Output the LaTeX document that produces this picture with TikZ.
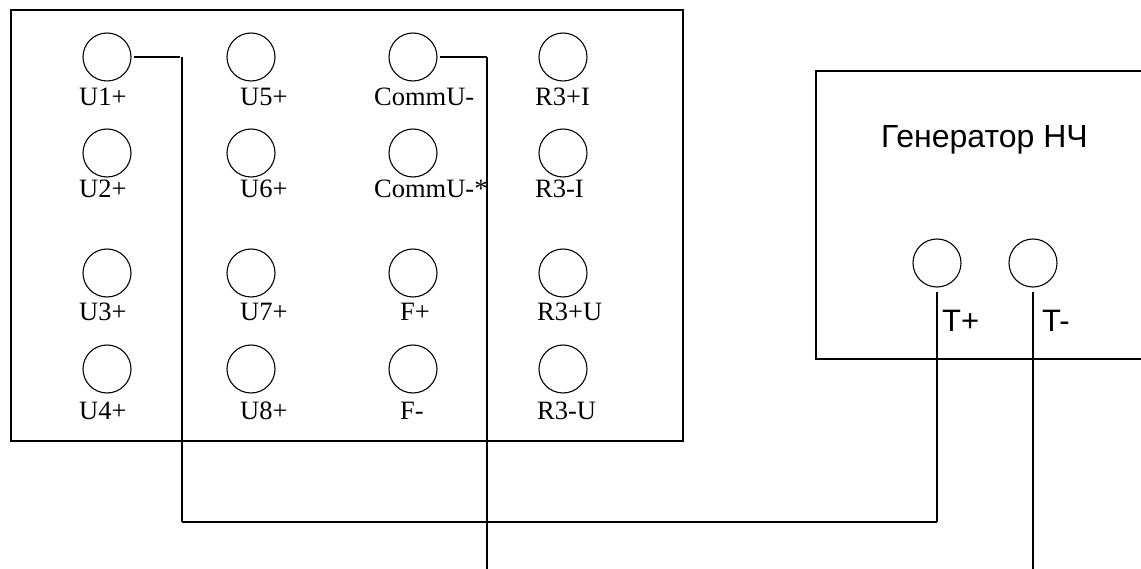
\documentclass[tikz,border=0pt]{standalone}
\usepackage{fontspec}
\setmainfont{Liberation Serif}
\newfontfamily\sansfont{Liberation Sans}
\usetikzlibrary{positioning, calc}
\tikzset{
    terminal/.style={circle, draw, line width=1.1pt, minimum size=48pt, inner sep=0pt},
    pinlabel/.style={anchor=base west, inner sep=0pt, font=\fontsize{26.5}{30}\selectfont},
    genlabel/.style={anchor=base west, inner sep=0pt, font=\sansfont\fontsize{31}{36}\selectfont},
    plate/.style={line width=1.5pt},
    wire/.style={line width=1.2pt}
}

\begin{document}
\begin{tikzpicture}[x=1pt, y=-1pt]
    \useasboundingbox (0, 0) rectangle (1141, 569);

    \draw[plate] (11, 10) rectangle (683, 441);
    \draw[plate] (1141, 71) -- (816, 71) -- (816, 359) -- (1141, 359);

    \node[terminal] (u1) at (107, 57) {};
    \node[terminal] (u2) at (107, 153) {};
    \node[terminal] (u3) at (107, 273) {};
    \node[terminal] (u4) at (107, 369) {};
    \node[terminal] (u5) at (251, 57) {};
    \node[terminal] (u6) at (251, 153) {};
    \node[terminal] (u7) at (251, 273) {};
    \node[terminal] (u8) at (251, 369) {};
    \node[terminal] (cm) at (413, 57) {};
    \node[terminal] (cs) at (413, 153) {};
    \node[terminal] (fp) at (413, 273) {};
    \node[terminal] (fm) at (413, 369) {};
    \node[terminal] (ri) at (563, 57) {};
    \node[terminal] (rj) at (563, 153) {};
    \node[terminal] (ru) at (563, 273) {};
    \node[terminal] (rv) at (563, 369) {};
    \node[terminal] (tp) at (937, 263) {};
    \node[terminal] (tm) at (1033, 263) {};

    \node[pinlabel] (lu1) at (79, 106) {U1+};
    \node[pinlabel] (lu2) at (79, 198) {U2+};
    \node[pinlabel] (lu3) at (79, 321) {U3+};
    \node[pinlabel] (lu4) at (79, 419) {U4+};
    \node[pinlabel] (lu5) at (240, 106) {U5+};
    \node[pinlabel] (lu6) at (240, 198) {U6+};
    \node[pinlabel] (lu7) at (240, 321) {U7+};
    \node[pinlabel] (lu8) at (240, 419) {U8+};
    \node[pinlabel] (lcm) at (374, 106) {CommU-};
    \node[pinlabel] (lcs) at (374, 198) {CommU-*};
    \node[pinlabel] (lfp) at (400, 321) {F+};
    \node[pinlabel] (lfm) at (400, 419) {F-};
    \node[pinlabel] (lri) at (535, 106) {R3+I};
    \node[pinlabel] (lrj) at (535, 198) {R3-I};
    \node[pinlabel] (lru) at (537, 321) {R3+U};
    \node[pinlabel] (lrv) at (537, 419) {R3-U};

    \node[genlabel, font=\sansfont\fontsize{32}{36}\selectfont] (gen) at (881, 148) {Генератор НЧ};
    \node[genlabel] (ltp) at (942, 332) {T+};
    \node[genlabel] (ltm) at (1042, 332) {T-};

    \coordinate (a1) at (182, 57);
    \coordinate (a2) at (182, 522);
    \coordinate (a3) at (937, 522);
    \coordinate (b1) at (487, 57);
    \coordinate (b2) at (487, 569);
    \coordinate (c1) at (1033, 569);

    \draw[wire, shorten <=2pt, shorten >=2pt] (u1.east) -- (a1);
    \draw[wire] (a1) -- (a2);
    \draw[plate] (a2) -- (a3);
    \draw[wire, shorten >=4pt] (a3) -- (tp.south);
    \draw[wire, shorten <=2pt] (cm.east) -- (b1);
    \draw[wire] (b1) -- (b2);
    \draw[wire, shorten >=4pt] (c1) -- (tm.south);
\end{tikzpicture}
\end{document}
